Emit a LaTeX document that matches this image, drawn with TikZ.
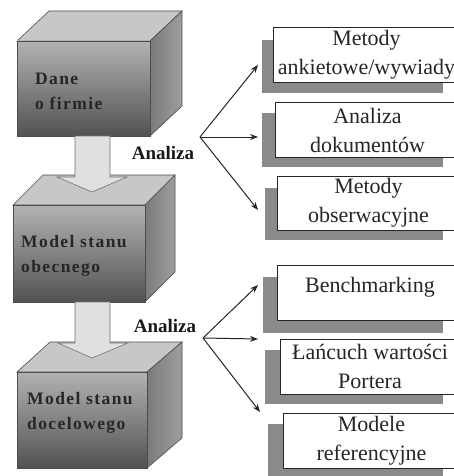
\documentclass[tikz,border=0pt]{standalone}
\usepackage{fontspec}
\setmainfont{Liberation Serif}
\newfontfamily\cubefont[LetterSpace=8]{Liberation Serif}
\usetikzlibrary{arrows.meta}
\begin{document}
\begin{tikzpicture}[x=1pt,y=-1pt,
  frontface/.style={top color=black!30, bottom color=black!68, draw=black!70, line width=0.6pt},
  topface/.style={fill=black!22, draw=black!70, line width=0.6pt},
  sideface/.style={left color=black!52, right color=black!38, draw=black!70, line width=0.6pt},
  cubetext/.style={anchor=west, align=left, text=black!85, font=\cubefont\bfseries\fontsize{17.5}{25}\selectfont, inner sep=0pt},
  bigarrow/.style={fill=black!12, draw=black!55, line width=0.6pt},
  label/.style={font=\bfseries\fontsize{19}{22}\selectfont, text=black!90, inner sep=0pt},
  shadowbox/.style={fill=black!46},
  wbox/.style={draw=black!85, fill=white, line width=0.8pt, align=center, inner sep=0pt,
     font=\fontsize{22}{29}\selectfont, text=black!85},
  boxtext/.style={align=center, inner sep=0pt, font=\fontsize{22}{29}\selectfont, text=black!85},
  fan/.style={draw=black!85, line width=1pt, -{Stealth[length=8pt,width=6pt]}}
]
\useasboundingbox (0,0) rectangle (454,476);
\fill[white] (0,0) rectangle (454,476);
\clip (0,0) rectangle (454,476);

% cube 1
\path[topface] (17,41) -- (49,11) -- (182,11) -- (150,41) -- cycle;
\path[sideface] (150,41) -- (182,11) -- (182,106) -- (150,136) -- cycle;
\path[frontface] (17,41) rectangle (150,136);
\node[cubetext] (c1) at (35,91) {Dane\\o firmie};

% cube 2
\path[topface] (13,205) -- (43,175) -- (175,175) -- (145,205) -- cycle;
\path[sideface] (145,205) -- (175,175) -- (175,272) -- (145,302) -- cycle;
\path[frontface] (13,205) rectangle (145,302);
\node[cubetext] (c2) at (21,256) {Model stanu\\obecnego};

% cube 3
\path[topface] (17,372) -- (50,342) -- (182,342) -- (147,372) -- cycle;
\path[sideface] (147,372) -- (182,342) -- (182,438) -- (147,468) -- cycle;
\path[frontface] (17,372) rectangle (147,468);
\node[cubetext] (c3) at (27,413) {Model stanu\\docelowego};

% big arrows
\path[bigarrow] (75,136) -- (75,177) -- (57,177) -- (92,192) -- (127,177) -- (110,177) -- (110,136) -- cycle;
\path[bigarrow] (75,302) -- (75,343) -- (58,343) -- (92,358) -- (128,343) -- (110,343) -- (110,302) -- cycle;

% labels
\node[label] (a1) at (163,153) {Analiza};
\node[label] (a2) at (165,326) {Analiza};

% shadows
\fill[shadowbox] (262,40) rectangle (443,93);
\fill[shadowbox] (262,113) rectangle (443,167);
\fill[shadowbox] (265,188) rectangle (443,240);
\fill[shadowbox] (263,277) rectangle (443,333);
\fill[shadowbox] (265,350) rectangle (443,404);
\fill[shadowbox] (268,424) rectangle (443,476);

% boxes
\node[wbox, minimum width=187pt, minimum height=55pt] (b1) at (366.5,54.5) {Metody\\ankietowe/wywiady};
\node[wbox, minimum width=185pt, minimum height=55pt] (b2) at (367.5,130) {Analiza\\dokumentów};
\node[wbox, minimum width=183pt, minimum height=54pt] (b3) at (368.5,203) {Metody\\obserwacyjne};
\node[wbox, minimum width=183pt, minimum height=55pt] (b4) at (368.5,292.5) {};
\node[boxtext] (b4t) at (370,287) {Benchmarking};
\node[wbox, minimum width=180pt, minimum height=55pt] (b5) at (370,366.5) {Łańcuch wartości\\Portera};
\node[wbox, minimum width=177pt, minimum height=55pt] (b6) at (371.5,441) {Modele\\referencyjne};

% fan 1
\coordinate (f1) at (200,137);
\coordinate (t1) at (258,65);
\coordinate (t2) at (258,137);
\coordinate (t3) at (258,210);
\draw[fan] (f1) -- (t1);
\draw[fan] (f1) -- (t2);
\draw[fan] (f1) -- (t3);

% fan 2
\coordinate (f2) at (203,338);
\coordinate (t4) at (258,285);
\coordinate (t5) at (258,339);
\coordinate (t6) at (260,412);
\draw[fan] (f2) -- (t4);
\draw[fan] (f2) -- (t5);
\draw[fan] (f2) -- (t6);
\end{tikzpicture}
\end{document}
